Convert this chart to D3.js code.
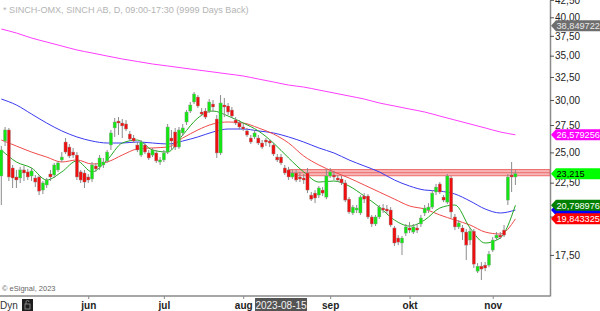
<!DOCTYPE html>
<html>
<head>
<meta charset="utf-8">
<script src="https://cdn.jsdelivr.net/npm/d3@7"></script>
<style>
  body { margin: 0; background: #fff; }
  svg { display: block; font-family: Arial, "Liberation Sans", sans-serif; }
</style>
</head>
<body>
<svg id="chart" width="600" height="311"></svg>
<script>
// daily candles, SINCH AB, early May -> Nov 2023 (index = trading day)
var open = [
  23.03,26.01,27.03,23.68,22.95,22.87,23.52,23.36,23.03,22.87,
  22.95,21.93,22.32,23.19,23.11,23.52,24.35,25.92,25.47,25.03,
  24.77,23.36,23.27,22.95,22.79,23.85,23.77,23.93,24.27,25.65,
  27.22,27.88,27.69,27.60,26.65,26.28,25.65,24.77,25.65,24.95,
  24.77,24.95,24.18,24.35,25.03,26.28,26.84,25.47,26.75,27.79,
  28.87,29.79,30.31,28.77,28.87,28.87,29.58,28.08,24.95,29.48,
  29.38,28.97,27.98,27.69,27.31,26.94,26.28,26.38,26.28,25.83,
  26.10,26.01,25.65,24.60,24.60,23.68,23.52,22.95,23.27,22.95,
  22.87,23.27,21.55,21.70,21.55,21.93,21.40,23.03,23.11,22.87,
  22.79,22.48,21.25,20.25,20.46,20.25,21.48,21.48,19.97,19.49,
  19.97,20.60,20.53,20.46,19.22,18.56,18.24,18.88,19.22,18.95,
  19.22,19.49,20.25,20.46,20.67,21.78,22.40,21.40,21.03,22.87,
  19.97,19.29,19.22,18.95,18.43,19.01,16.54,16.83,16.89,16.89,
  17.80,18.56,18.75,19.08,21.18,23.11,22.95];
var high = [
  25.56,27.31,27.22,23.93,23.52,23.77,23.85,23.60,23.68,23.11,
  23.11,22.63,22.87,23.52,24.10,24.27,25.03,26.28,25.74,25.39,
  25.03,23.52,23.52,23.19,24.18,24.10,24.77,24.52,25.21,27.03,
  28.18,28.27,28.08,27.98,26.94,26.56,25.92,26.10,25.83,25.21,
  25.39,25.21,24.60,25.21,27.60,27.03,27.22,27.31,27.60,28.97,
  29.79,30.84,30.52,29.17,29.17,30.10,30.00,28.47,30.52,30.21,
  29.69,29.28,28.27,27.98,27.60,27.22,26.56,27.03,26.56,26.10,
  26.28,26.19,25.83,24.86,24.86,23.93,23.77,23.52,23.52,23.36,
  23.19,23.68,21.78,21.93,22.24,22.16,23.60,23.68,23.44,23.11,
  23.03,22.71,21.40,20.82,20.82,21.55,21.70,21.63,20.11,20.11,
  20.82,20.89,20.82,20.67,19.35,18.75,18.69,19.49,19.62,19.49,
  19.49,20.11,20.82,20.96,21.93,22.40,22.55,21.55,23.19,23.03,
  20.18,19.76,19.42,19.15,19.22,19.15,17.01,17.07,17.07,17.74,
  18.62,18.95,18.95,19.42,23.19,24.18,23.52];
var low = [
  20.82,25.56,22.63,22.09,22.09,22.48,22.63,22.71,22.63,22.16,
  21.55,21.63,22.09,22.63,22.87,23.36,24.18,24.86,24.52,24.52,
  22.71,22.48,22.09,22.48,22.55,23.36,23.52,23.68,24.10,25.21,
  26.38,26.56,26.28,26.94,26.01,25.83,25.03,24.60,24.86,24.35,
  24.60,24.10,23.93,24.18,24.86,25.21,25.21,25.30,26.47,27.50,
  28.67,29.58,29.17,28.37,28.08,28.67,28.77,24.52,24.77,28.27,
  28.47,28.18,27.50,27.12,26.94,26.38,25.74,26.19,25.65,25.30,
  25.56,25.47,24.69,24.18,23.93,23.11,22.71,22.79,22.55,22.55,
  22.40,21.70,21.11,20.96,21.33,21.48,21.25,22.87,22.71,22.55,
  22.32,21.03,20.18,20.11,20.25,20.11,20.96,19.83,19.29,19.35,
  19.83,20.25,20.18,19.29,18.05,18.11,17.49,18.69,18.88,18.82,
  18.88,19.29,20.04,20.25,20.53,21.55,21.63,21.03,20.89,19.90,
  19.08,19.15,18.43,17.19,18.11,16.72,16.43,16.04,16.54,16.77,
  17.68,18.43,18.49,18.62,20.82,21.78,22.32];
var close = [
  25.21,27.03,22.95,22.87,22.71,23.52,23.27,22.95,23.44,22.55,
  21.85,22.48,22.71,22.95,23.93,24.10,24.60,25.03,24.69,24.77,
  22.95,22.71,22.55,22.71,23.93,23.60,24.52,24.18,25.03,26.75,
  27.79,27.69,27.41,27.12,26.19,26.01,25.21,25.92,25.03,24.52,
  25.21,24.27,24.35,24.95,27.31,26.01,25.47,27.03,27.22,28.77,
  29.48,30.63,29.38,28.57,28.27,29.79,29.28,24.95,29.69,29.28,
  28.77,28.37,27.69,27.31,27.12,26.56,25.92,26.75,25.83,25.47,
  25.92,25.83,24.86,24.35,24.10,23.27,22.95,23.27,22.71,22.79,
  22.71,21.93,21.25,21.33,22.09,21.70,23.03,23.36,22.95,22.71,
  22.48,21.18,20.32,20.67,20.60,21.40,21.25,19.97,19.49,19.97,
  20.67,20.46,20.39,19.42,18.24,18.30,18.56,19.29,19.08,19.29,
  19.08,19.90,20.60,20.67,21.70,22.16,21.78,21.18,23.03,20.32,
  19.29,19.56,18.95,18.11,19.01,16.95,16.83,16.66,16.72,17.55,
  18.43,18.75,18.62,18.75,22.95,22.95,23.215];

// moving averages read every 4th bar
var maIdx = [0,4,8,12,16,20,24,28,32,36,40,44,48,52,56,60,64,68,72,76,80,84,88,92,96,100,104,108,112,116,120,124,128,132,136];
var ma200 = [38.40,37.87,37.22,36.70,36.20,35.70,35.33,34.96,34.60,34.30,34.00,33.77,33.53,33.30,33.07,32.84,32.61,32.27,31.94,31.60,31.38,31.06,30.74,30.42,30.10,29.69,29.38,29.07,28.77,28.37,27.98,27.60,27.22,26.84,26.58];
var ma50 = [30.10,29.48,28.57,27.69,26.94,26.38,26.01,25.83,25.83,25.92,25.83,25.74,26.01,26.38,26.84,27.12,27.12,26.94,26.75,26.38,25.92,25.39,24.95,24.35,23.85,23.36,22.71,22.24,21.93,21.85,21.63,21.11,20.53,20.25,20.46];
var ma20 = [26.10,25.56,25.03,24.60,24.18,24.35,24.01,24.18,24.77,25.30,25.39,25.47,26.28,27.03,27.60,27.79,27.69,27.22,26.65,25.83,24.69,23.93,23.36,22.87,22.32,21.78,21.25,20.75,20.53,20.11,19.76,19.42,18.95,18.82,19.84];
var ma10 = [25.21,24.18,23.68,22.71,23.36,24.27,23.36,24.35,25.83,26.10,25.21,25.03,26.56,28.18,28.87,28.37,27.69,26.94,25.83,24.52,23.36,22.55,22.63,22.24,21.48,20.67,19.76,19.35,19.76,20.60,20.82,19.22,18.24,18.56,20.80];

var months = ["jun", "jul", "aug", "sep", "okt", "nov"];
var monthIdx = [23, 43, 64, 87, 108, 130];
var yTicks = [17.5, 20, 22.5, 25, 27.5, 30, 32.5, 35, 37.5, 40, 42.5];

var zoneLow = 23.05, zoneHigh = 23.55, zoneStart = 76;
var cursorIdx = 74, cursorLabel = "2023-08-15";

// last-value tags on the price axis (blue one sits under the green/red ones)
var tagValues = [38.849722, 26.579256, 23.215, 20.459, 20.798976, 19.843325];
var tagLabel  = ["38,849722", "26,579256", "23,215", "", "20,798976", "19,843325"];
var tagFill   = ["#6e6e6e", "#ff00ff", "#00ff00", "#0000ff", "#008000", "#ff0000"];
var tagText   = ["#e8e8e8", "#ffffff", "#000000", "#ffffff", "#ffffff", "#ffffff"];

var svg = d3.select("#chart");
var plotW = 550, plotH = 296;

var x = d3.scaleLinear().domain([0, 136]).range([1.3, 515.4]);
var y = d3.scaleLog().domain([15.17, 42.48]).range([plotH, 0]);

// resistance zone
svg.append("rect")
  .attr("x", x(zoneStart)).attr("width", plotW - x(zoneStart))
  .attr("y", y(zoneHigh)).attr("height", y(zoneLow) - y(zoneHigh))
  .attr("fill", "#f59a9a").attr("fill-opacity", 0.75)
  .attr("stroke", "#ee6b6b").attr("stroke-width", 1);
svg.append("line")
  .attr("x1", x(zoneStart)).attr("x2", plotW)
  .attr("y1", (y(zoneHigh) + y(zoneLow)) / 2).attr("y2", (y(zoneHigh) + y(zoneLow)) / 2)
  .attr("stroke", "#e86060").attr("stroke-width", 0.8);

// moving averages
function maPath(vals) {
  return d3.line()
    .x(function(d, i) { return x(maIdx[i]); })
    .y(function(d) { return y(d); })
    .curve(d3.curveMonotoneX)(vals);
}
var maSeries = [[ma200, "#ff3cff"], [ma50, "#3a3af0"], [ma20, "#f04a4a"], [ma10, "#23a823"]];
maSeries.forEach(function(s) {
  svg.append("path").attr("d", maPath(s[0]))
    .attr("fill", "none").attr("stroke", s[1]).attr("stroke-width", 1);
});

// candles
var bars = svg.append("g").selectAll("g").data(d3.range(open.length)).join("g");
bars.append("line")
  .attr("x1", function(i) { return x(i); }).attr("x2", function(i) { return x(i); })
  .attr("y1", function(i) { return y(high[i]); }).attr("y2", function(i) { return y(low[i]); })
  .attr("stroke", "#8c8c8c").attr("stroke-width", 1);
bars.append("rect")
  .attr("x", function(i) { return x(i) - 1.6; })
  .attr("width", 3.2)
  .attr("y", function(i) { return y(Math.max(open[i], close[i])); })
  .attr("height", function(i) { return Math.max(1, Math.abs(y(open[i]) - y(close[i]))); })
  .attr("fill", function(i) {
    if (Math.abs(y(open[i]) - y(close[i])) < 1.2) return "#8c8c8c";
    return close[i] >= open[i] ? "#14e614" : "#ee0f0f";
  })
  .attr("stroke", "#9a9a9a").attr("stroke-width", 0.4);

// frame
svg.append("line").attr("x1", 0).attr("x2", plotW).attr("y1", plotH).attr("y2", plotH)
  .attr("stroke", "#8a8a8a").attr("stroke-width", 1.5);

// right axis
var yAxis = d3.axisRight(y).tickValues(yTicks).tickSize(4).tickSizeOuter(0)
  .tickFormat(function(d) { return d3.format(".2f")(d).replace(".", ","); });
var ga = svg.append("g").attr("transform", "translate(" + plotW + ",0)").call(yAxis);
ga.select(".domain").attr("stroke", "#8a8a8a").attr("stroke-width", 1.5);
ga.selectAll(".tick line").attr("stroke", "#555");
ga.selectAll(".tick text").attr("x", 5).attr("fill", "#222")
  .style("font-size", "10px").style("font-family", "Arial, 'Liberation Sans', sans-serif");

// value tags
tagValues.forEach(function(v, k) {
  var ty = y(v);
  var g = svg.append("g").attr("transform", "translate(551," + ty + ")");
  g.append("path").attr("d", "M0,0 L5,-5.5 L49,-5.5 L49,5.5 L5,5.5 Z").attr("fill", tagFill[k]);
  if (tagLabel[k]) {
    g.append("text").attr("x", 5.5).attr("y", 3.4)
      .attr("fill", tagText[k]).style("font-size", "9.2px")
      .text(tagLabel[k]);
  }
});

// bottom axis
var xAxis = d3.axisBottom(x).tickValues(monthIdx).tickSize(3)
  .tickFormat(function(d, i) { return months[i]; });
var gx = svg.append("g").attr("transform", "translate(0," + plotH + ")").call(xAxis);
gx.select(".domain").remove();
gx.selectAll(".tick line").attr("stroke", "#888");
gx.selectAll(".tick text").attr("fill", "#222").attr("y", 6)
  .style("font-size", "10px").style("font-weight", "bold")
  .style("font-family", "Arial, 'Liberation Sans', sans-serif");

// cursor date label
var cx = x(cursorIdx);
svg.append("rect").attr("x", cx - 26).attr("y", 298).attr("width", 52).attr("height", 13).attr("fill", "#545454");
svg.append("text").attr("x", cx).attr("y", 308.5).attr("text-anchor", "middle")
  .attr("fill", "#f2f2f2").style("font-size", "10px").text(cursorLabel);

// "Dyn" + lock button
svg.append("text").attr("x", 0).attr("y", 308.5).attr("fill", "#333").style("font-size", "10px").text("Dyn");
svg.append("rect").attr("x", 22).attr("y", 299).attr("width", 11).attr("height", 12).attr("fill", "#1e1e1e");
svg.append("rect").attr("x", 25).attr("y", 304).attr("width", 5).attr("height", 5).attr("fill", "none").attr("stroke", "#9a9a9a").attr("stroke-width", 0.8);
svg.append("path").attr("d", "M26,304 V302 A1.5,1.5 0 0 1 29,302").attr("fill", "none").attr("stroke", "#9a9a9a").attr("stroke-width", 0.8);

// texts
svg.append("text").attr("x", 3).attr("y", 12.5).attr("fill", "#b4b4b4").style("font-size", "9.1px")
  .text("* SINCH-OMX, SINCH AB, D, 09:00-17:30 (9999 Days Back)");
svg.append("text").attr("x", 2).attr("y", 291).attr("fill", "#666").style("font-size", "7.5px")
  .text("\u00a9 eSignal, 2023");
</script>
</body>
</html>
